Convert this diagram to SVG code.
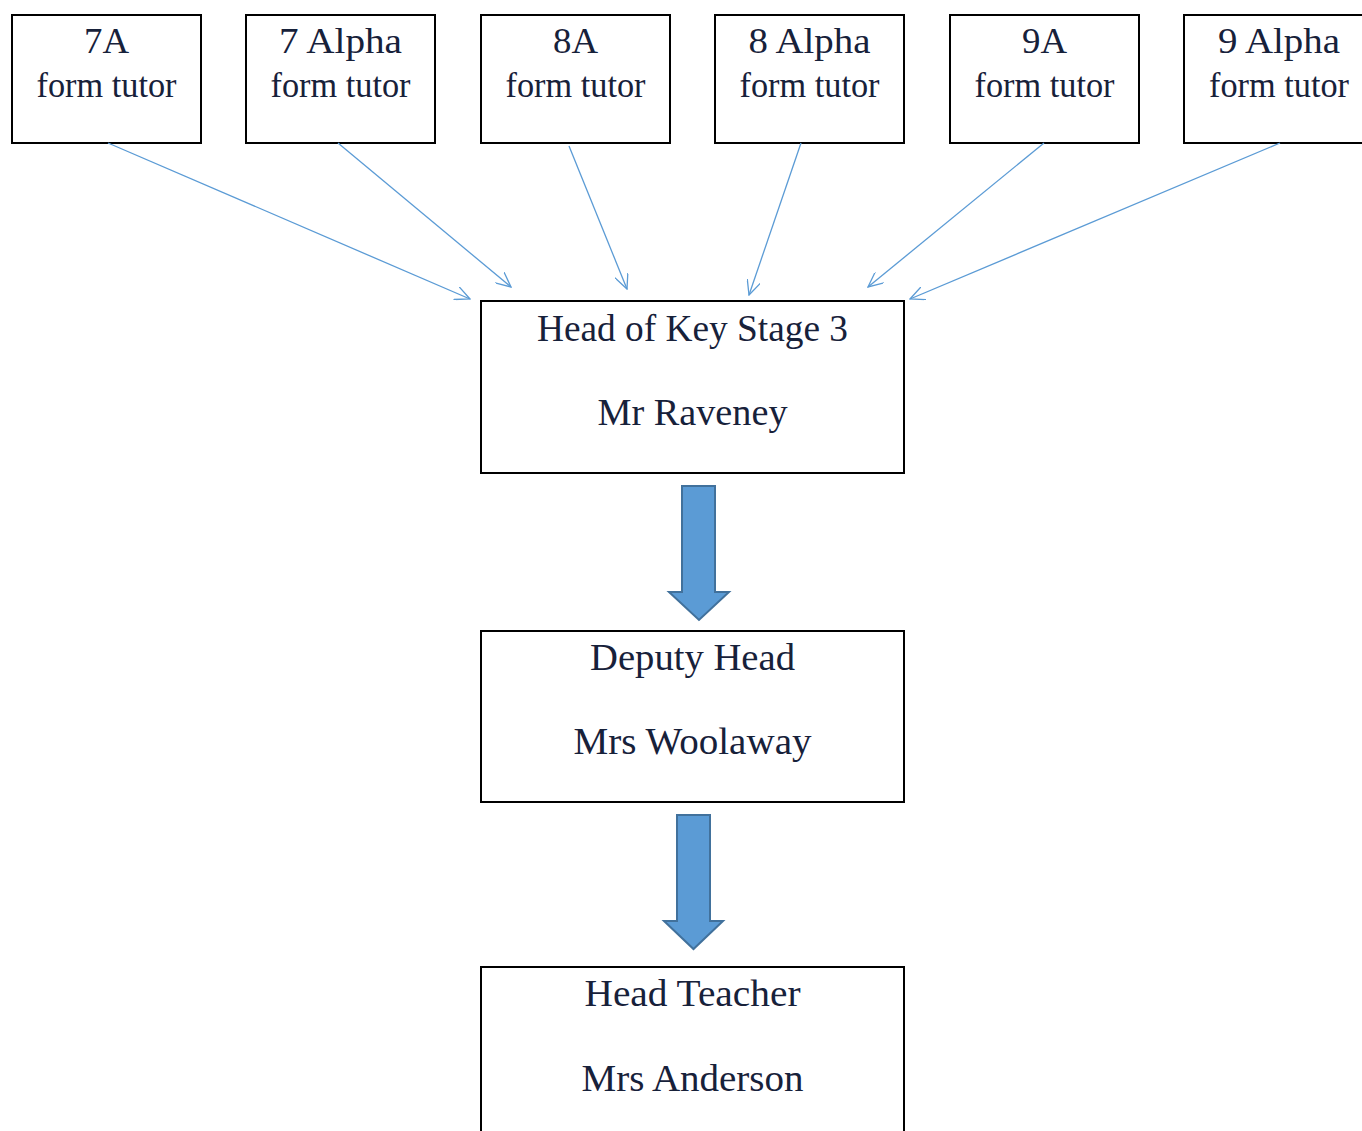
<svg xmlns="http://www.w3.org/2000/svg" width="1362" height="1131" viewBox="0 0 1362 1131">
<style>
.box{fill:#fff;stroke:#000;stroke-width:2}
.t{font-family:"Liberation Serif","DejaVu Serif",serif;fill:#17213a;text-anchor:middle}
.s{font-size:35px}
.m{font-size:38px}
.con{stroke:#5b9bd5;stroke-width:1.3;fill:none;marker-end:url(#ah)}
.blk{fill:#5b9bd5;stroke:#41719c;stroke-width:2}
</style>
<defs>
<marker id="ah" viewBox="0 0 16 14" refX="15" refY="7" markerWidth="16" markerHeight="14" markerUnits="userSpaceOnUse" orient="auto">
<path d="M0,0 L15,7 L0,14" fill="none" stroke="#5b9bd5" stroke-width="1.3"/>
</marker>
</defs>
<rect width="1362" height="1131" fill="#fff"/>
<g id="n7a"><rect class="box" x="12" y="15" width="189" height="128"/><text class="t s" x="106.5" y="53" textLength="45" lengthAdjust="spacingAndGlyphs">7A</text><text class="t s" x="106.5" y="97" textLength="140" lengthAdjust="spacingAndGlyphs">form tutor</text></g>
<g id="n7alpha"><rect class="box" x="246" y="15" width="189" height="128"/><text class="t s" x="340.5" y="53" textLength="123" lengthAdjust="spacingAndGlyphs">7 Alpha</text><text class="t s" x="340.5" y="97" textLength="140" lengthAdjust="spacingAndGlyphs">form tutor</text></g>
<g id="n8a"><rect class="box" x="481" y="15" width="189" height="128"/><text class="t s" x="575.5" y="53" textLength="45" lengthAdjust="spacingAndGlyphs">8A</text><text class="t s" x="575.5" y="97" textLength="140" lengthAdjust="spacingAndGlyphs">form tutor</text></g>
<g id="n8alpha"><rect class="box" x="715" y="15" width="189" height="128"/><text class="t s" x="809.5" y="53" textLength="122" lengthAdjust="spacingAndGlyphs">8 Alpha</text><text class="t s" x="809.5" y="97" textLength="140" lengthAdjust="spacingAndGlyphs">form tutor</text></g>
<g id="n9a"><rect class="box" x="950" y="15" width="189" height="128"/><text class="t s" x="1044.5" y="53" textLength="45" lengthAdjust="spacingAndGlyphs">9A</text><text class="t s" x="1044.5" y="97" textLength="140" lengthAdjust="spacingAndGlyphs">form tutor</text></g>
<g id="n9alpha"><rect class="box" x="1184" y="15" width="189" height="128"/><text class="t s" x="1279" y="53" textLength="122" lengthAdjust="spacingAndGlyphs">9 Alpha</text><text class="t s" x="1279" y="97" textLength="140" lengthAdjust="spacingAndGlyphs">form tutor</text></g>
<g id="ks3"><rect class="box" x="481" y="301" width="423" height="172"/><text class="t m" x="692.5" y="341" textLength="311" lengthAdjust="spacingAndGlyphs">Head of Key Stage 3</text><text class="t m" x="692.5" y="425" textLength="190" lengthAdjust="spacingAndGlyphs">Mr Raveney</text></g>
<g id="deputy"><rect class="box" x="481" y="631" width="423" height="171"/><text class="t m" x="692.5" y="670" textLength="205" lengthAdjust="spacingAndGlyphs">Deputy Head</text><text class="t m" x="692.5" y="754" textLength="238" lengthAdjust="spacingAndGlyphs">Mrs Woolaway</text></g>
<g id="head"><rect class="box" x="481" y="967" width="423" height="180"/><text class="t m" x="692.5" y="1006" textLength="216" lengthAdjust="spacingAndGlyphs">Head Teacher</text><text class="t m" x="692.5" y="1091" textLength="222" lengthAdjust="spacingAndGlyphs">Mrs Anderson</text></g>
<g id="connectors">
<line class="con" x1="108" y1="143" x2="470" y2="299"/>
<line class="con" x1="338" y1="143" x2="511" y2="287"/>
<line class="con" x1="569" y1="146" x2="627" y2="289"/>
<line class="con" x1="801" y1="143" x2="749" y2="295"/>
<line class="con" x1="1044" y1="143" x2="868" y2="287"/>
<line class="con" x1="1280" y1="143" x2="910" y2="299"/>
<path class="blk" d="M682,486 L715,486 L715,592 L729,592 L699,620 L669,592 L682,592 Z"/>
<path class="blk" d="M677,815 L710,815 L710,921 L723,921 L693.5,949 L664,921 L677,921 Z"/>
</g>
</svg>
